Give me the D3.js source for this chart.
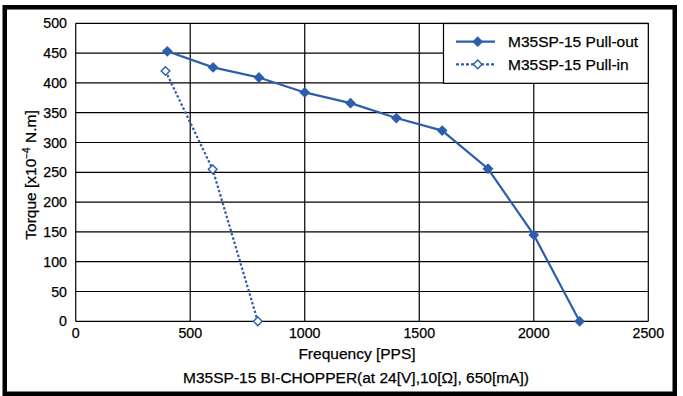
<html>
<head>
<script src="https://d3js.org/d3.v7.min.js"></script>
<style>
  body { margin: 0; background: #fff; }
  text { font-family: "Liberation Sans", Arial, sans-serif; fill: #000; stroke: #000; stroke-width: 0.25; }
</style>
</head>
<body>
<svg width="683" height="396"></svg>
<script>
    const pullOutFreq = [400, 600, 800, 1000, 1200, 1400, 1600, 1800, 2000, 2200];
    const pullOutTorque = [453, 426, 409, 384, 366, 341, 320, 256, 145, 0];
    const pullInFreq = [392, 598, 795];
    const pullInTorque = [420, 255, 0];
    const xTicks = [0, 500, 1000, 1500, 2000, 2500];
    const yTicks = [0, 50, 100, 150, 200, 250, 300, 350, 400, 450, 500];
    const seriesNames = ["M35SP-15 Pull-out", "M35SP-15 Pull-in"];

    const blue = "#2d5eab";
    const svg = d3.select("svg");

    // outer frame
    svg.append("rect")
        .attr("x", 4.75).attr("y", 7.25)
        .attr("width", 670).attr("height", 386.5)
        .attr("fill", "none").attr("stroke", "#000").attr("stroke-width", 4.5);

    const x = d3.scaleLinear().domain([0, 2500]).range([75.7, 648.3]);
    const y = d3.scaleLinear().domain([0, 500]).range([321.3, 23.3]);

    // grid
    svg.append("g").selectAll("line").data(yTicks).enter().append("line")
        .attr("x1", x(0)).attr("x2", x(2500))
        .attr("y1", d => y(d)).attr("y2", d => y(d))
        .attr("stroke", "#000").attr("stroke-width", 1.2);
    svg.append("g").selectAll("line").data(xTicks).enter().append("line")
        .attr("x1", d => x(d)).attr("x2", d => x(d))
        .attr("y1", y(0)).attr("y2", y(500))
        .attr("stroke", "#000").attr("stroke-width", 1.2);

    // tick labels
    svg.append("g").selectAll("text").data(yTicks).enter().append("text")
        .attr("x", 67).attr("y", d => y(d) + 5)
        .attr("text-anchor", "end").attr("font-size", 14.2)
        .text(d => d);
    svg.append("g").selectAll("text").data(xTicks).enter().append("text")
        .attr("x", d => x(d)).attr("y", 337.5)
        .attr("text-anchor", "middle").attr("font-size", 14.2)
        .text(d => d);

    // axis titles
    svg.append("text")
        .attr("x", 357).attr("y", 358.5)
        .attr("text-anchor", "middle").attr("font-size", 15.5)
        .text("Frequency [PPS]");
    svg.append("text")
        .attr("x", 356).attr("y", 382.5)
        .attr("text-anchor", "middle").attr("font-size", 15.5)
        .text("M35SP-15 BI-CHOPPER(at 24[V],10[Ω], 650[mA])");

    const yt = svg.append("text")
        .attr("transform", "translate(36,175) rotate(-90)")
        .attr("text-anchor", "middle").attr("font-size", 15.5);
    yt.append("tspan").text("Torque [x10");
    yt.append("tspan").attr("font-size", 10).attr("dy", -6).text("−4");
    yt.append("tspan").attr("dy", 6).text(" N.m]");

    // series
    const pullOut = pullOutFreq.map((f, i) => [f, pullOutTorque[i]]);
    const pullIn = pullInFreq.map((f, i) => [f, pullInTorque[i]]);
    const line = d3.line().x(d => x(d[0])).y(d => y(d[1]));

    svg.append("path").datum(pullIn)
        .attr("d", line).attr("fill", "none")
        .attr("stroke", blue).attr("stroke-width", 2.2)
        .attr("stroke-dasharray", "2.5,2");
    svg.append("path").datum(pullOut)
        .attr("d", line).attr("fill", "none")
        .attr("stroke", blue).attr("stroke-width", 2.2);

    const bigDiamond = d3.symbol().type(d3.symbolDiamond2).size(75);
    const smallDiamond = d3.symbol().type(d3.symbolDiamond2).size(48);

    svg.append("g").selectAll("path").data(pullOut).enter().append("path")
        .attr("d", bigDiamond)
        .attr("transform", d => `translate(${x(d[0])},${y(d[1])})`)
        .attr("fill", blue);
    svg.append("g").selectAll("path").data(pullIn).enter().append("path")
        .attr("d", smallDiamond)
        .attr("transform", d => `translate(${x(d[0])},${y(d[1])})`)
        .attr("fill", "#fff").attr("stroke", blue).attr("stroke-width", 1.4);

    // legend
    const lg = svg.append("g");
    lg.append("rect")
        .attr("x", 443.5).attr("y", 23.5).attr("width", 204.8).attr("height", 59.8)
        .attr("fill", "#fff").attr("stroke", "#000").attr("stroke-width", 1.2);
    const rows = [41.7, 64.3];
    seriesNames.forEach((name, i) => {
        lg.append("line")
            .attr("x1", 456).attr("x2", 495)
            .attr("y1", rows[i]).attr("y2", rows[i])
            .attr("stroke", blue).attr("stroke-width", 2.2)
            .attr("stroke-dasharray", i === 1 ? "3,2" : null);
        lg.append("path")
            .attr("d", i === 0 ? bigDiamond : smallDiamond)
            .attr("transform", `translate(477.7,${rows[i]})`)
            .attr("fill", i === 0 ? blue : "#fff")
            .attr("stroke", i === 0 ? null : blue).attr("stroke-width", 1.4);
        lg.append("text")
            .attr("x", 508).attr("y", rows[i] + 5.5)
            .attr("font-size", 15.5)
            .text(name);
    });
</script>
</body>
</html>
